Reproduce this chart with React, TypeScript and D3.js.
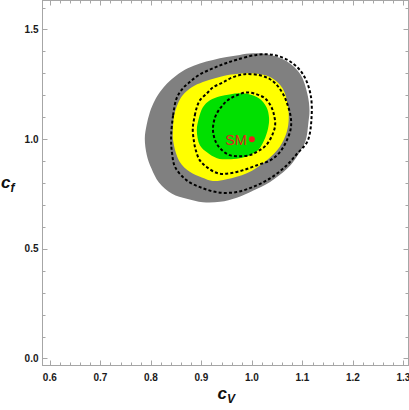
import React from "react";
import * as d3 from "d3";

const W = 409;
const H = 410;

const xTicks = [0.6, 0.7, 0.8, 0.9, 1.0, 1.1, 1.2, 1.3];
const yTicks = [0.0, 0.5, 1.0, 1.5];

// Filled 3-sigma region (gray)
const grayRegion: [number, number][] = [
  [0.788, 1.003], [0.7915, 1.063], [0.798, 1.123], [0.808, 1.177], [0.818, 1.215],
  [0.832, 1.254], [0.851, 1.291], [0.873, 1.323], [0.897, 1.345], [0.923, 1.361],
  [0.950, 1.374], [0.976, 1.384], [1.002, 1.391], [1.036, 1.384], [1.069, 1.355],
  [1.096, 1.296], [1.110, 1.205], [1.114, 1.131], [1.112, 1.078], [1.106, 0.990],
  [1.093, 0.935], [1.071, 0.868], [1.036, 0.805], [1.002, 0.765], [0.970, 0.733],
  [0.937, 0.714], [0.903, 0.712], [0.871, 0.728], [0.842, 0.751], [0.816, 0.802],
  [0.801, 0.867], [0.792, 0.927],
];

// Filled 2-sigma region (yellow)
const yellowRegion: [number, number][] = [
  [0.844, 0.994], [0.844, 1.063], [0.846, 1.108], [0.853, 1.159], [0.863, 1.200],
  [0.881, 1.236], [0.903, 1.260], [0.927, 1.277], [0.950, 1.291], [0.996, 1.300],
  [1.036, 1.283], [1.061, 1.231], [1.071, 1.154], [1.073, 1.095], [1.069, 1.032],
  [1.055, 0.964], [1.029, 0.903], [0.990, 0.844], [0.950, 0.817], [0.923, 0.809],
  [0.901, 0.825], [0.877, 0.851], [0.857, 0.897],
];

// Filled 1-sigma region (green)
const greenRegion: [number, number][] = [
  [0.891, 1.040], [0.895, 1.095], [0.903, 1.145], [0.917, 1.177], [0.937, 1.195],
  [0.956, 1.204], [0.976, 1.209], [0.996, 1.204], [1.016, 1.183], [1.029, 1.145],
  [1.034, 1.095], [1.032, 1.049], [1.024, 0.994], [1.012, 0.949], [0.996, 0.927],
  [0.976, 0.913], [0.952, 0.908], [0.931, 0.913], [0.911, 0.940], [0.897, 0.972],
];

// Dashed contours
const outerDashed: [number, number][] = [
  [0.840, 1.003], [0.844, 1.108], [0.851, 1.186], [0.863, 1.231], [0.877, 1.260],
  [0.897, 1.295], [0.923, 1.323], [0.947, 1.345], [0.970, 1.362], [1.009, 1.384],
  [1.042, 1.384], [1.075, 1.355], [1.101, 1.296], [1.116, 1.205], [1.118, 1.095],
  [1.110, 0.990], [1.090, 0.935], [1.069, 0.881], [1.036, 0.821], [1.002, 0.782],
  [0.970, 0.759], [0.937, 0.756], [0.903, 0.776], [0.871, 0.812], [0.848, 0.873],
  [0.842, 0.935],
];

const middleDashed: [number, number][] = [
  [0.883, 1.049], [0.887, 1.108], [0.891, 1.145], [0.897, 1.177], [0.911, 1.209],
  [0.923, 1.236], [0.943, 1.259], [0.962, 1.282], [0.986, 1.296], [1.016, 1.291],
  [1.036, 1.273], [1.050, 1.245], [1.063, 1.200], [1.071, 1.154], [1.077, 1.099],
  [1.077, 1.049], [1.069, 0.994], [1.055, 0.940], [1.036, 0.903], [1.010, 0.881],
  [0.982, 0.858], [0.956, 0.844], [0.933, 0.844], [0.911, 0.872], [0.897, 0.903],
  [0.889, 0.949], [0.885, 0.994],
];

const innerDashed: [number, number][] = [
  [0.923, 1.040], [0.927, 1.099], [0.937, 1.140], [0.952, 1.177], [0.970, 1.200],
  [0.990, 1.213], [1.010, 1.204], [1.026, 1.186], [1.038, 1.149], [1.044, 1.108],
  [1.046, 1.063], [1.040, 1.017], [1.028, 0.972], [1.012, 0.945], [0.996, 0.927],
  [0.976, 0.922], [0.956, 0.927], [0.941, 0.949], [0.929, 0.985],
];

const smPoint: [number, number] = [1.0, 1.0];
const smLabel = "SM";

const xDomain: [number, number] = [0.5855, 1.31];
const yDomain: [number, number] = [-0.032, 1.632];

export default function App() {
  const left = 42.5, right = 408.5, top = 0.5, bottom = 365.5;
  const x = d3.scaleLinear().domain(xDomain).range([left, right]);
  const y = d3.scaleLinear().domain(yDomain).range([bottom, top]);

  const shape = d3
    .line<[number, number]>()
    .x((d) => x(d[0]))
    .y((d) => y(d[1]))
    .curve(d3.curveCatmullRomClosed.alpha(0.5));

  const xMinor = d3.range(0.58, 1.3101, 0.02).filter((v) => v >= xDomain[0] && v <= xDomain[1]);
  const yMinor = d3.range(0, 1.61, 0.1).filter((v) => v >= yDomain[0] && v <= yDomain[1]);
  const isMajorX = (v: number) => xTicks.some((t) => Math.abs(t - v) < 1e-6);
  const isMajorY = (v: number) => yTicks.some((t) => Math.abs(t - v) < 1e-6);

  const tickColor = "#a6a6a6";
  const dash = { stroke: "#000", strokeWidth: 2, strokeDasharray: "3,2.2", fill: "none" };

  return (
    <svg width={W} height={H} style={{ position: "absolute", left: 0, top: 0, display: "block" }}
      fontFamily="'Liberation Sans', Arial, sans-serif">
      <rect x={0} y={0} width={W} height={H} fill="#fff" />
      <path d={shape(grayRegion) || ""} fill="#808080" />
      <path d={shape(yellowRegion) || ""} fill="#ffff00" />
      <path d={shape(greenRegion) || ""} fill="#00e000" />
      <path d={shape(outerDashed) || ""} {...dash} />
      <path d={shape(middleDashed) || ""} {...dash} />
      <path d={shape(innerDashed) || ""} {...dash} />

      <circle cx={x(smPoint[0])} cy={y(smPoint[1])} r={3} fill="#ee1c1c" />
      <text x={x(smPoint[0]) - 5} y={y(smPoint[1]) + 5.5} textAnchor="end" fontSize={14.5} fill="#e02020">
        {smLabel}
      </text>

      <rect x={left} y={top} width={right - left} height={bottom - top} fill="none" stroke={tickColor} strokeWidth={1} />

      {xMinor.map((v, i) => {
        const len = isMajorX(v) ? 5 : 3;
        const px = Math.round(x(v)) + 0.5;
        return (
          <g key={"xt" + i}>
            <line x1={px} x2={px} y1={bottom} y2={bottom - len} stroke={tickColor} />
            <line x1={px} x2={px} y1={top} y2={top + len} stroke={tickColor} />
          </g>
        );
      })}
      {yMinor.map((v, i) => {
        const len = isMajorY(v) ? 5 : 3;
        const py = Math.round(y(v)) + 0.5;
        return (
          <g key={"yt" + i}>
            <line x1={left} x2={left + len} y1={py} y2={py} stroke={tickColor} />
            <line x1={right} x2={right - len} y1={py} y2={py} stroke={tickColor} />
          </g>
        );
      })}

      {xTicks.map((v) => (
        <text key={"xl" + v} x={x(v)} y={bottom + 15} textAnchor="middle" fontSize={10} fontWeight="bold" fill="#1a1a1a">
          {v.toFixed(1)}
        </text>
      ))}
      {yTicks.map((v) => (
        <text key={"yl" + v} x={left - 4} y={y(v) + 3.5} textAnchor="end" fontSize={10} fontWeight="bold" fill="#1a1a1a">
          {v.toFixed(1)}
        </text>
      ))}

      <text x={(left + right) / 2 - 8} y={399} fontSize={17} fontWeight="bold" fontStyle="italic" fill="#111">
        c<tspan fontSize={12} dy={4}>V</tspan>
      </text>
      <text x={1} y={188} fontSize={17} fontWeight="bold" fontStyle="italic" fill="#111">
        c<tspan fontSize={12} dy={4}>f</tspan>
      </text>
    </svg>
  );
}
